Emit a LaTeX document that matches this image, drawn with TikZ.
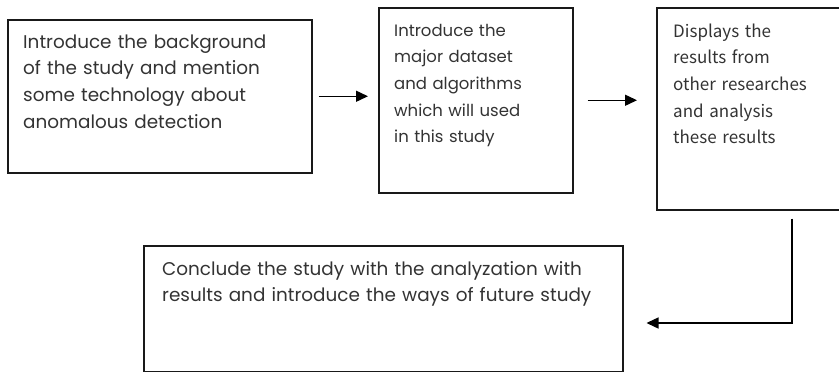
\documentclass[tikz,border=0pt]{standalone}
\usepackage{fontspec}
\setmainfont{Poppins}
\newfontfamily\plainsans{Noto Sans CJK SC}
\usetikzlibrary{arrows.meta}
\definecolor{inkgray}{HTML}{333333}
\tikzset{
  frame/.style={draw=black!90, line width=1.5pt, inner sep=0pt, anchor=north west},
  boxtext/.style={anchor=base west, inner sep=0pt, text width=460pt, align=left,
    text=inkgray, font=\fontsize{16.5}{26.7}\selectfont},
  bigtext/.style={boxtext, font=\fontsize{18.4}{26.7}\selectfont},
  flow/.style={line width=1.4pt, -{Triangle[length=12pt,width=11pt]}}
}
\begin{document}
\begin{tikzpicture}[x=1pt, y=-1pt]
  \useasboundingbox (0,0) rectangle (839,372);
  % Boxes
  \node[frame, minimum width=304pt, minimum height=153pt] (intro) at (7,19) {};
  \node[frame, minimum width=194pt, minimum height=185pt] (data) at (378,7) {};
  \node[frame, minimum width=192pt, minimum height=202pt] (results) at (656,7) {};
  \node[frame, minimum width=479pt, minimum height=126pt] (concl) at (143,245) {};
  % Texts
  \node[bigtext] (introtxt) at ([shift={(16pt,-29pt)}]intro.north west)
    {Introduce the background\\of the study and mention\\some technology about\\anomalous detection};
  \node[boxtext] (datatxt) at ([shift={(16pt,-29pt)}]data.north west)
    {Introduce the\\major dataset\\and algorithms\\which will used\\in this study};
  \node[boxtext, font=\plainsans\fontsize{17}{26.7}\selectfont] (resultstxt)
    at ([shift={(17pt,-30pt)}]results.north west)
    {Displays the\\results from\\other researches\\and analysis\\these results};
  \node[bigtext] (concltxt) at ([shift={(19pt,-30pt)}]concl.north west)
    {Conclude the study with the analyzation with\\results and introduce the ways of future study};
  % Arrows
  \coordinate (turn) at (792,323);
  \draw[flow] ([xshift=6pt]intro.east) -- ([xshift=-10pt]intro.east -| data.west);
  \draw[flow] ([xshift=14pt]data.east) -- ([xshift=-19pt]data.east -| results.west);
  \draw[flow] ([yshift=-8pt]results.south -| turn) -- (turn) -- ([xshift=23pt]turn -| concl.east);
\end{tikzpicture}
\end{document}
